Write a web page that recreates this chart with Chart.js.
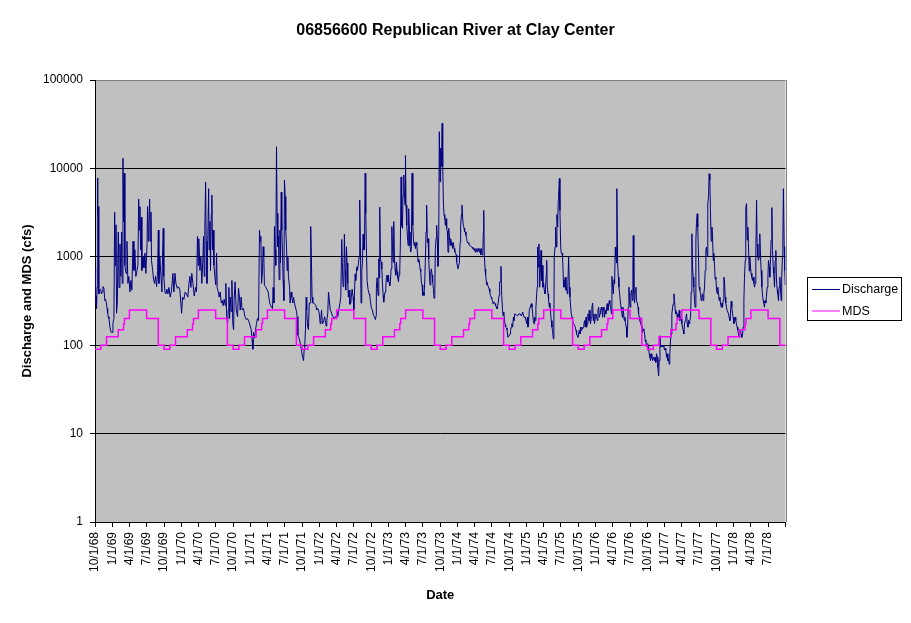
<!DOCTYPE html>
<html>
<head>
<meta charset="utf-8">
<title>06856600 Republican River at Clay Center</title>
<script src="https://cdn.jsdelivr.net/npm/chart.js@4.4.0/dist/chart.umd.min.js"></script>
<style>
  html, body { margin: 0; padding: 0; background: #fff; }
  canvas { display: block; }
</style>
</head>
<body>
<canvas id="chart" width="911" height="623"></canvas>
<script>
// Quarterly tick labels along the date axis (the axis ends on an unlabelled tick)
const quarterLabels = [
  '10/1/68', '1/1/69', '4/1/69', '7/1/69', '10/1/69', '1/1/70', '4/1/70', '7/1/70',
  '10/1/70', '1/1/71', '4/1/71', '7/1/71', '10/1/71', '1/1/72', '4/1/72', '7/1/72',
  '10/1/72', '1/1/73', '4/1/73', '7/1/73', '10/1/73', '1/1/74', '4/1/74', '7/1/74',
  '10/1/74', '1/1/75', '4/1/75', '7/1/75', '10/1/75', '1/1/76', '4/1/76', '7/1/76',
  '10/1/76', '1/1/77', '4/1/77', '7/1/77', '10/1/77', '1/1/78', '4/1/78', '7/1/78'
];
const axisEndLabel = '10/1/78';
const decadeTicks = [1, 10, 100, 1000, 10000, 100000];

// Daily discharge (cfs): [days since 10/1/1968, cfs]
const dischargeReadings = [
  [0,750],[2,480],[4,300],[6,360],[8,260],[11,450],[14,7800],[15,3000],[17,3700],[19,550],
  [21,380],[25,420],[30,430],[34,380],[38,400],[42,460],[47,440],[52,320],[56,330],[60,300],
  [64,260],[67,230],[70,210],[74,200],[79,160],[84,143],[88,138],[90,140],[95,180],[100,200],
  [104,3200],[107,800],[111,2300],[114,230],[118,300],[123,1900],[127,450],[132,1400],[137,600],[141,1900],
  [144,500],[148,13000],[151,2500],[155,8800],[158,800],[164,650],[169,1500],[174,500],[179,600],[185,400],
  [190,540],[195,420],[201,1500],[206,700],[211,1200],[216,600],[222,700],[227,800],[231,4500],[234,2000],
  [238,3700],[241,1200],[245,2800],[248,700],[254,1000],[259,750],[264,1100],[269,650],[275,1300],[278,3700],
  [282,1500],[285,2400],[289,4500],[292,1500],[296,3200],[299,900],[305,700],[310,550],[315,500],[320,600],
  [326,460],[331,700],[335,2000],[338,500],[343,1000],[349,600],[354,400],[357,1000],[361,2100],[364,600],
  [370,400],[375,380],[380,430],[386,380],[391,450],[398,350],[405,420],[412,650],[417,400],[423,650],
  [428,500],[435,440],[442,460],[449,420],[454,300],[458,230],[463,350],[470,330],[477,400],[484,380],
  [491,350],[497,500],[502,600],[507,450],[512,650],[518,500],[525,360],[532,450],[537,400],[542,1700],
  [546,800],[549,1600],[555,700],[560,1000],[565,500],[571,1000],[574,1700],[578,600],[581,2000],[585,7000],
  [588,1500],[592,500],[595,1000],[601,5900],[604,1200],[608,2500],[611,700],[615,3000],[618,5000],[622,1200],
  [625,2000],[629,800],[634,600],[639,480],[643,1100],[646,450],[652,400],[657,350],[662,400],[668,300],
  [673,320],[678,280],[683,330],[689,280],[692,500],[696,220],[701,170],[705,250],[708,450],[712,200],
  [715,350],[720,240],[724,540],[729,175],[733,150],[736,340],[741,520],[747,250],[754,210],[759,440],
  [764,350],[768,250],[773,350],[778,250],[785,260],[793,210],[800,195],[807,200],[814,185],[821,165],
  [826,150],[831,115],[835,90],[838,140],[844,120],[849,150],[854,175],[859,200],[865,190],[870,2000],
  [874,1500],[877,1700],[881,500],[886,700],[889,1300],[893,1000],[896,480],[902,460],[909,430],[916,400],
  [921,330],[926,290],[933,270],[939,260],[942,450],[946,300],[949,2200],[953,1200],[956,800],[960,17600],
  [963,3100],[967,1300],[970,1700],[974,550],[978,2000],[981,850],[985,5400],[988,2000],[992,1000],[995,550],
  [999,320],[1002,7400],[1006,4800],[1009,2000],[1013,1300],[1016,700],[1020,1000],[1023,600],[1029,460],[1032,300],
  [1037,400],[1041,350],[1046,300],[1050,350],[1055,300],[1060,270],[1066,240],[1069,210],[1073,130],[1076,125],
  [1082,115],[1087,100],[1092,88],[1097,75],[1103,67],[1106,88],[1110,105],[1113,150],[1117,350],[1120,250],
  [1124,165],[1129,150],[1133,300],[1138,300],[1141,2200],[1145,830],[1148,350],[1152,300],[1157,300],[1163,290],
  [1168,280],[1173,250],[1178,260],[1184,240],[1187,220],[1191,175],[1194,190],[1198,250],[1203,175],[1208,180],
  [1214,210],[1219,190],[1222,165],[1226,190],[1231,230],[1235,400],[1238,350],[1244,250],[1249,240],[1254,220],
  [1259,210],[1265,200],[1270,210],[1275,210],[1279,240],[1284,210],[1289,250],[1295,295],[1300,350],[1305,1570],
  [1309,700],[1312,460],[1316,480],[1319,1800],[1323,700],[1326,420],[1330,1300],[1333,850],[1337,500],[1340,350],
  [1344,420],[1348,290],[1353,300],[1356,360],[1360,430],[1365,350],[1369,250],[1372,380],[1376,640],[1379,540],
  [1385,770],[1388,700],[1393,830],[1397,1000],[1400,4400],[1404,1300],[1407,300],[1411,700],[1414,830],[1418,1800],
  [1422,1200],[1425,1200],[1429,8800],[1432,3100],[1436,1100],[1439,540],[1444,430],[1450,380],[1453,366],[1457,310],
  [1462,260],[1467,250],[1473,217],[1478,210],[1483,195],[1487,217],[1488,435],[1492,580],[1497,366],[1501,950],
  [1503,580],[1506,3650],[1510,950],[1513,870],[1517,730],[1520,520],[1524,366],[1527,307],[1531,366],[1534,400],
  [1538,435],[1541,580],[1545,620],[1548,520],[1552,620],[1555,520],[1559,470],[1562,520],[1566,730],[1570,2200],
  [1573,1350],[1577,870],[1580,2500],[1584,950],[1587,730],[1591,620],[1594,870],[1598,680],[1601,580],[1605,520],
  [1608,620],[1612,730],[1615,1350],[1619,8000],[1622,2270],[1626,2100],[1629,5000],[1633,8400],[1637,4570],[1640,3840],
  [1642,14000],[1645,3840],[1649,2270],[1652,1750],[1656,1345],[1659,3500],[1663,1910],[1666,1345],[1670,1130],[1673,1240],
  [1677,8800],[1681,2270],[1684,1600],[1688,1345],[1691,1450],[1695,1240],[1698,1450],[1702,1345],[1705,1130],[1709,870],
  [1712,940],[1716,870],[1719,730],[1723,680],[1726,520],[1730,480],[1733,366],[1737,400],[1740,366],[1744,520],
  [1747,870],[1751,1910],[1754,3840],[1758,1450],[1762,1600],[1765,940],[1769,620],[1772,480],[1776,680],[1779,730],
  [1783,620],[1786,520],[1790,435],[1793,340],[1797,366],[1800,1240],[1804,1600],[1807,2270],[1811,1450],[1814,780],
  [1818,1750],[1821,26000],[1825,7060],[1828,16900],[1832,10500],[1836,32400],[1839,10500],[1843,3840],[1846,3000],[1850,2700],
  [1853,2270],[1857,2700],[1860,2100],[1864,1910],[1867,1130],[1871,2100],[1874,1750],[1878,1345],[1881,1600],[1885,1450],
  [1888,1345],[1892,1240],[1895,1450],[1899,1240],[1903,1130],[1906,1130],[1910,1050],[1913,870],[1917,780],[1920,730],
  [1924,730],[1927,870],[1931,1450],[1934,2270],[1938,3000],[1941,3840],[1945,2600],[1948,2270],[1952,2100],[1955,1910],
  [1959,1910],[1962,1750],[1966,1600],[1969,1450],[1973,1450],[1977,1400],[1980,1345],[1984,1345],[1987,1345],[1991,1290],
  [1994,1290],[1998,1240],[2001,1240],[2005,1180],[2008,1240],[2012,1130],[2015,1240],[2019,1180],[2022,1130],[2026,1240],
  [2029,1180],[2033,1130],[2036,1240],[2040,1050],[2043,1240],[2047,1050],[2051,1130],[2054,1910],[2056,3350],[2059,1050],
  [2063,730],[2066,620],[2070,520],[2073,480],[2077,480],[2080,460],[2084,435],[2088,400],[2091,366],[2095,350],
  [2098,336],[2102,320],[2105,295],[2109,307],[2112,307],[2116,295],[2119,280],[2123,270],[2126,258],[2130,280],
  [2133,307],[2137,366],[2140,520],[2144,520],[2147,780],[2151,366],[2155,258],[2158,217],[2162,237],[2165,199],
  [2169,170],[2172,160],[2176,157],[2179,150],[2184,123],[2190,128],[2195,134],[2198,147],[2202,160],[2205,175],
  [2209,160],[2213,207],[2216,190],[2220,226],[2227,220],[2234,215],[2241,226],[2248,226],[2255,215],[2262,237],
  [2269,207],[2276,207],[2283,175],[2287,207],[2290,160],[2294,190],[2297,248],[2301,269],[2304,280],[2308,295],
  [2311,269],[2315,226],[2318,190],[2322,175],[2325,207],[2329,190],[2332,269],[2336,381],[2339,453],[2341,1290],
  [2345,764],[2348,1400],[2352,453],[2355,650],[2359,1180],[2362,540],[2366,800],[2369,453],[2373,500],[2376,420],
  [2380,381],[2383,453],[2387,650],[2389,910],[2392,453],[2396,381],[2399,320],[2403,269],[2406,300],[2410,226],
  [2413,190],[2417,160],[2420,147],[2424,118],[2427,190],[2429,1000],[2433,1290],[2436,2170],[2440,1290],[2443,3000],
  [2447,2170],[2450,4360],[2452,5000],[2456,7680],[2459,3350],[2463,1290],[2466,1100],[2470,1100],[2473,1000],[2477,550],
  [2480,453],[2484,500],[2487,588],[2491,420],[2494,453],[2498,381],[2501,500],[2505,1000],[2509,453],[2512,350],
  [2516,269],[2519,226],[2523,207],[2526,190],[2530,175],[2533,175],[2537,167],[2540,160],[2544,147],[2547,134],
  [2551,128],[2554,123],[2558,134],[2561,147],[2565,134],[2568,160],[2572,147],[2575,160],[2579,153],[2583,160],
  [2586,175],[2590,190],[2593,160],[2597,207],[2600,160],[2604,175],[2607,226],[2611,190],[2614,248],[2618,190],
  [2621,175],[2625,207],[2628,269],[2632,300],[2635,190],[2639,226],[2642,175],[2646,207],[2649,226],[2653,207],
  [2657,190],[2660,248],[2664,269],[2667,207],[2671,226],[2674,248],[2678,269],[2681,248],[2685,207],[2688,269],
  [2692,248],[2695,207],[2699,248],[2702,226],[2706,269],[2709,295],[2713,248],[2716,269],[2720,320],[2723,295],
  [2727,269],[2731,226],[2734,600],[2738,453],[2741,381],[2745,550],[2748,500],[2752,1290],[2755,1000],[2759,850],
  [2760,5900],[2764,850],[2768,588],[2771,453],[2775,381],[2778,320],[2782,269],[2785,248],[2789,207],[2792,269],
  [2796,226],[2799,190],[2803,207],[2806,175],[2810,160],[2813,123],[2817,160],[2820,269],[2824,453],[2827,320],
  [2831,269],[2834,381],[2838,420],[2842,320],[2845,800],[2847,1740],[2850,381],[2854,300],[2857,400],[2861,453],
  [2864,320],[2868,300],[2872,269],[2875,226],[2879,207],[2882,190],[2886,175],[2889,167],[2893,147],[2896,140],
  [2900,153],[2903,147],[2907,134],[2910,114],[2914,109],[2917,96],[2921,104],[2924,88],[2928,96],[2931,80],
  [2935,73],[2938,67],[2942,80],[2945,73],[2949,67],[2952,73],[2956,70],[2959,67],[2963,73],[2966,64],
  [2970,80],[2974,73],[2977,56],[2981,45],[2984,67],[2988,128],[2991,96],[2995,100],[2998,96],[3002,96],
  [3005,100],[3009,96],[3012,88],[3016,92],[3019,88],[3023,73],[3026,80],[3030,67],[3033,70],[3037,61],
  [3040,80],[3044,114],[3048,134],[3051,226],[3055,269],[3058,292],[3062,381],[3065,320],[3069,248],[3072,226],
  [3076,237],[3079,207],[3083,226],[3086,207],[3090,248],[3093,190],[3097,207],[3100,198],[3104,175],[3107,160],
  [3111,147],[3114,134],[3118,175],[3122,190],[3125,207],[3129,226],[3132,175],[3136,160],[3139,190],[3143,175],
  [3146,190],[3150,207],[3153,400],[3157,1820],[3160,764],[3164,588],[3167,453],[3171,320],[3174,269],[3178,1550],
  [3181,2370],[3185,3070],[3188,2170],[3192,1000],[3195,453],[3199,420],[3203,381],[3206,320],[3210,350],[3213,381],
  [3217,320],[3220,381],[3224,453],[3227,700],[3231,1180],[3234,1290],[3238,1000],[3241,4000],[3245,4770],[3248,8700],
  [3252,7400],[3255,3350],[3259,1500],[3263,2170],[3266,1700],[3270,910],[3273,1100],[3277,764],[3280,560],[3284,588],
  [3287,420],[3291,381],[3294,453],[3298,381],[3301,320],[3305,350],[3308,300],[3312,269],[3315,300],[3319,269],
  [3322,320],[3326,588],[3329,550],[3333,350],[3336,300],[3340,269],[3343,248],[3347,248],[3351,226],[3354,207],
  [3358,190],[3361,226],[3365,315],[3368,269],[3372,226],[3375,207],[3379,175],[3382,190],[3386,207],[3389,190],
  [3393,175],[3396,160],[3400,147],[3403,134],[3407,123],[3410,134],[3414,147],[3417,134],[3421,123],[3425,134],
  [3428,160],[3432,320],[3435,588],[3439,910],[3442,3600],[3446,4000],[3449,1550],[3453,2170],[3456,1400],[3460,690],
  [3463,1000],[3467,764],[3470,650],[3474,588],[3477,540],[3481,588],[3485,500],[3488,453],[3492,500],[3495,1000],
  [3499,4360],[3502,1400],[3506,1000],[3509,910],[3513,1000],[3516,1820],[3520,1000],[3523,700],[3527,453],[3530,381],
  [3534,320],[3537,300],[3541,269],[3544,320],[3548,300],[3551,350],[3555,453],[3559,588],[3562,910],[3566,764],
  [3569,588],[3573,1000],[3576,1550],[3580,3600],[3583,1180],[3587,764],[3590,650],[3594,453],[3597,910],[3601,1180],
  [3604,560],[3608,420],[3611,381],[3615,320],[3618,453],[3622,588],[3625,453],[3629,320],[3632,588],[3636,1000],
  [3638,1530],[3641,5900],[3645,1300],[3648,700],[3651,480]
];

// Minimum desirable streamflow (cfs): the same schedule every water year.
// [month, day, cfs] -- Oct-Dec entries fall in the previous calendar year
const mdsSchedule = [
  [10, 1, 90], [11, 1, 100], [12, 1, 125], [2, 1, 150], [3, 1, 175],
  [3, 6, 200], [4, 1, 250], [7, 1, 200], [9, 1, 100]
];
const waterYears = [1969, 1970, 1971, 1972, 1973, 1974, 1975, 1976, 1977, 1978];

const FONT = '"Liberation Sans", Arial, Helvetica, sans-serif';
const START = Date.UTC(1968, 9, 1);
const dayOf = (y, m, d) => Math.round((Date.UTC(y, m - 1, d) - START) / 86400000);
const parseLabel = s => {
  const [m, d, yy] = s.split('/').map(Number);
  return dayOf(1900 + yy, m, d);
};

const tickDays = quarterLabels.map(parseLabel).concat(parseLabel(axisEndLabel));
const endDay = tickDays[tickDays.length - 1];

const dischargePoints = dischargeReadings.map(([d, q]) => ({ x: d, y: q }));

const mdsPoints = [];
waterYears.forEach(wy => {
  mdsSchedule.forEach(([m, d, q]) => {
    mdsPoints.push({ x: dayOf(m >= 10 ? wy - 1 : wy, m, d), y: q });
  });
});
mdsPoints.push({ x: endDay, y: mdsSchedule[mdsSchedule.length - 1][2] });

// Gray plot area + frame on the right
const plotFrame = {
  id: 'plotFrame',
  beforeDraw(chart) {
    const { ctx, chartArea: a } = chart;
    ctx.save();
    ctx.fillStyle = '#fff';
    ctx.fillRect(0, 0, chart.width, chart.height);
    ctx.fillStyle = '#c0c0c0';
    ctx.fillRect(a.left, a.top, a.right - a.left, a.bottom - a.top);
    ctx.restore();
  },
  afterDraw(chart) {
    const { ctx, chartArea: a } = chart;
    ctx.save();
    ctx.strokeStyle = '#808080';
    ctx.lineWidth = 1;
    ctx.beginPath();
    ctx.moveTo(Math.round(a.right) + 0.5, a.top);
    ctx.lineTo(Math.round(a.right) + 0.5, a.bottom);
    ctx.stroke();
    ctx.restore();
  }
};

// Excel-like boxed legend
const boxLegend = {
  id: 'boxLegend',
  afterDraw(chart, args, o) {
    const { ctx } = chart;
    ctx.save();
    ctx.fillStyle = '#fff';
    ctx.fillRect(o.x, o.y, o.w, o.h);
    ctx.strokeStyle = '#000';
    ctx.lineWidth = 1;
    ctx.strokeRect(o.x + 0.5, o.y + 0.5, o.w, o.h);
    ctx.font = '12.5px ' + FONT;
    ctx.textBaseline = 'middle';
    chart.data.datasets.forEach((ds, i) => {
      const cy = o.y + o.firstRow + i * o.rowGap;
      ctx.strokeStyle = ds.borderColor;
      ctx.beginPath();
      ctx.moveTo(o.x + 5, cy + 0.5);
      ctx.lineTo(o.x + 5 + o.lineLen, cy + 0.5);
      ctx.stroke();
      ctx.fillStyle = '#000';
      ctx.fillText(ds.label, o.x + 7 + o.lineLen, cy + 1);
    });
    ctx.restore();
  }
};

Chart.defaults.font.family = FONT;
Chart.defaults.color = '#000';

new Chart(document.getElementById('chart'), {
  type: 'line',
  data: {
    datasets: [
      {
        label: 'Discharge',
        data: dischargePoints,
        borderColor: '#000080',
        borderWidth: 1,
        pointRadius: 0,
        tension: 0,
        fill: false,
        order: 1
      },
      {
        label: 'MDS',
        data: mdsPoints,
        borderColor: '#ff00ff',
        borderWidth: 1.5,
        pointRadius: 0,
        stepped: true,
        fill: false,
        order: 0
      }
    ]
  },
  options: {
    responsive: false,
    animation: false,
    devicePixelRatio: 1,
    events: [],
    layout: { padding: 0 },
    plugins: {
      legend: { display: false },
      tooltip: { enabled: false },
      title: {
        display: true,
        text: '06856600 Republican River at Clay Center',
        color: '#000',
        font: { size: 16, weight: 'bold' },
        padding: { top: 21.4, bottom: 39.4 }
      },
      boxLegend: { x: 807, y: 277, w: 94, h: 43, firstRow: 12, rowGap: 21.5, lineLen: 28 }
    },
    scales: {
      x: {
        type: 'linear',
        min: 0,
        max: endDay,
        afterBuildTicks: s => { s.ticks = tickDays.map(v => ({ value: v })); },
        afterFit: s => { s.height = 101; },
        ticks: {
          autoSkip: false,
          minRotation: 90,
          maxRotation: 90,
          padding: 5,
          font: { size: 12 },
          callback: (v, i) => quarterLabels[i] || ''
        },
        grid: { drawOnChartArea: false, tickColor: '#000', tickLength: 5 },
        border: { color: '#000' },
        title: {
          display: true,
          text: 'Date',
          font: { size: 13, weight: 'bold' },
          padding: { top: 0, bottom: 20.2 }
        }
      },
      y: {
        type: 'logarithmic',
        min: 1,
        max: 100000,
        afterBuildTicks: s => { s.ticks = decadeTicks.map(v => ({ value: v })); },
        afterFit: s => { s.width = 95; },
        ticks: {
          autoSkip: false,
          padding: 7,
          font: { size: 12 },
          callback: v => String(v)
        },
        grid: {
          color: c => (c.tick && c.tick.value === 100000 ? '#808080' : '#000'),
          tickColor: '#000',
          tickLength: 5
        },
        border: { color: '#000' },
        title: {
          display: true,
          text: 'Discharge and MDS (cfs)',
          font: { size: 13, weight: 'bold' },
          padding: { top: 19.7, bottom: 0 }
        }
      },
      // empty band on the right that holds the legend box
      legendBand: {
        axis: 'y',
        type: 'linear',
        position: 'right',
        ticks: { display: false },
        grid: { display: false, drawTicks: false },
        border: { display: false },
        afterFit: s => { s.width = 125.5; }
      }
    }
  },
  plugins: [plotFrame, boxLegend]
});
</script>
</body>
</html>
